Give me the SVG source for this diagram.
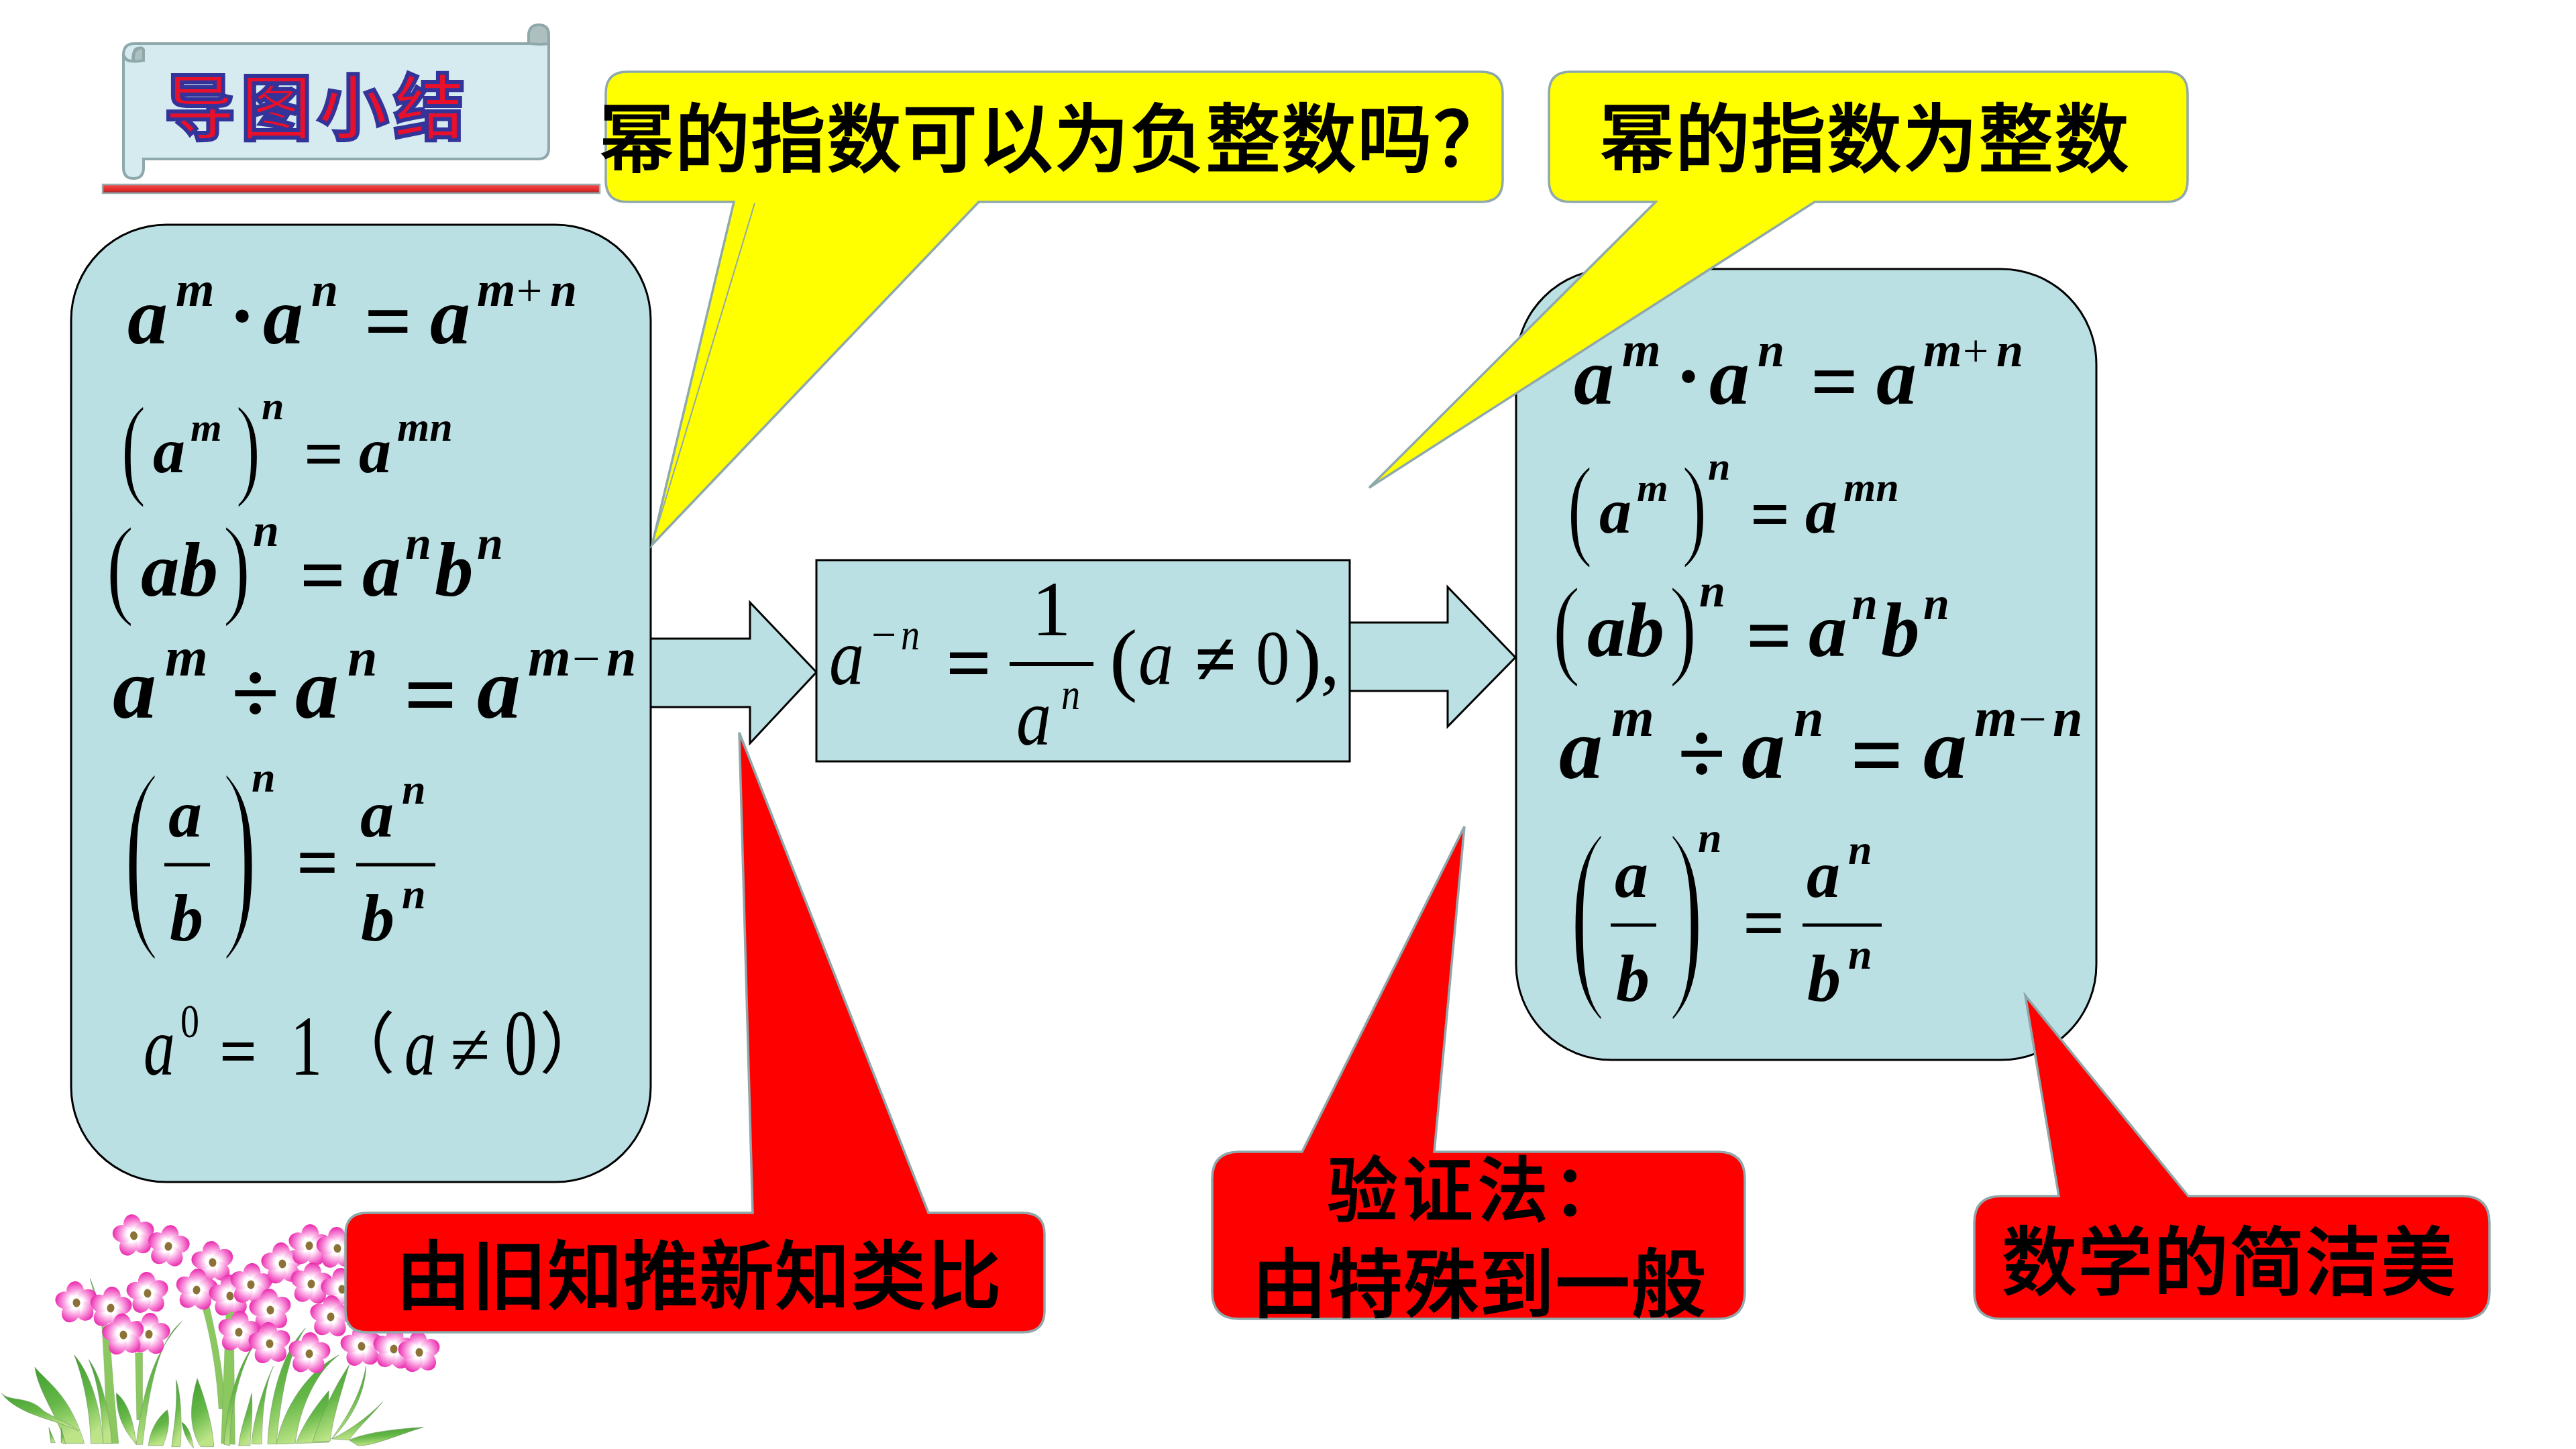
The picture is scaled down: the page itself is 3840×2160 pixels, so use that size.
<svg xmlns="http://www.w3.org/2000/svg" width="3840" height="2160" viewBox="0 0 3840 2160">
<style>
text{fill:#000}
.bi{font-family:"Liberation Serif",serif;font-style:italic;font-weight:700}
.bo{font-family:"Liberation Serif",serif;font-weight:700}
.rm{font-family:"Liberation Serif",serif}
.it{font-family:"Liberation Serif",serif;font-style:italic}
.cjk{font-family:"Noto Sans CJK SC",sans-serif;font-weight:500;font-size:112px;letter-spacing:1px;stroke:#000;stroke-width:1.5}
.box{fill:#bbe0e3;stroke:#000;stroke-width:3}
.bar{stroke:#000;stroke-width:5}
.yel{fill:#ff0;stroke:#8fa8ab;stroke-width:3.5}
.red{fill:#f00;stroke:#8fa8ab;stroke-width:3.5}
.scroll{fill:#d6ebef;stroke:#8fa8ab;stroke-width:4}
.curl{fill:#aebfc0;stroke:#8fa8ab;stroke-width:4}
.leaf{fill:url(#leafGrad);stroke:#6f8f62;stroke-width:1.5}
.stem{fill:#8cc860;stroke:#6f9a55;stroke-width:1}
/* tall delimiters: an outline in the panel colour thins the stretched strokes */
.thin{stroke:#bbe0e3;stroke-width:7;vector-effect:non-scaling-stroke}
.thin2{stroke:#bbe0e3;stroke-width:2.5;vector-effect:non-scaling-stroke}
</style>
<defs>
<linearGradient id="leafGrad" x1="0" y1="0" x2="0.25" y2="1"><stop offset="0" stop-color="#3f9f30"/><stop offset="0.55" stop-color="#66b848"/><stop offset="1" stop-color="#bde588"/></linearGradient>
<linearGradient id="ruleGrad" x1="0" y1="0" x2="0" y2="1"><stop offset="0" stop-color="#f05050"/><stop offset="0.6" stop-color="#e52a2a"/><stop offset="1" stop-color="#8e3030"/></linearGradient>
<radialGradient id="petalGrad" gradientUnits="userSpaceOnUse" cx="0" cy="0" r="33" fx="3" fy="-3"><stop offset="0" stop-color="#fff"/><stop offset="0.25" stop-color="#fff"/><stop offset="0.55" stop-color="#fa9fe0"/><stop offset="1" stop-color="#e81ea8"/></radialGradient>
<g id="flower">
<ellipse cx="0" cy="-17" rx="13" ry="15" fill="url(#petalGrad)"/>
<ellipse cx="0" cy="-17" rx="13" ry="15" fill="url(#petalGrad)" transform="rotate(72)"/>
<ellipse cx="0" cy="-17" rx="13" ry="15" fill="url(#petalGrad)" transform="rotate(144)"/>
<ellipse cx="0" cy="-17" rx="13" ry="15" fill="url(#petalGrad)" transform="rotate(216)"/>
<ellipse cx="0" cy="-17" rx="13" ry="15" fill="url(#petalGrad)" transform="rotate(288)"/>
<circle r="8" fill="#fff"/>
<ellipse rx="5.5" ry="6.5" fill="#8d7238"/>
</g>
</defs>
<rect width="3840" height="2160" fill="#fff"/>

<!-- banner scroll and heading -->
<g id="title">
<path class="scroll" d="M214,237 H802 Q818,237 818,221 V65 H200 Q184,65 184,82 V250 Q184,266 199,266 Q214,266 214,250 Z"/>
<path class="scroll" d="M214,90 Q214,72 206,72 Q198,72 198,90 Q190,94 184,82 M184,82 V250"/>
<path class="curl" d="M788,65 V50 Q790,37 803,37 Q818,37 818,52 V65 Q812,66 803,66 L788,65 Z"/>
<path class="curl" d="M184,84 Q190,95 214,90 V74 Q212,70 206,72 Q198,76 199,92" fill="none"/>
<rect x="153" y="275" width="741" height="13" fill="url(#ruleGrad)" stroke="#9aaeb0" stroke-width="2.5"/>
<text x="245" y="199" font-family="Noto Sans CJK SC,sans-serif" font-weight="700" font-size="106" letter-spacing="8" style="fill:#e8102a;stroke:#333399;stroke-width:6">导图小结</text>
</g>

<!-- flower clump, laid out on a 2.306 x 3 local grid -->
<g id="flowers">
<g transform="translate(0,1780) scale(.4337,.3333)">
<path class="stem" d="M350,590 L375,590 C385,780 395,950 408,1115 L365,1115 C365,950 360,780 350,590Z"/>
<path class="stem" d="M465,710 H490 V1010 L470,1010 Z"/>
<path class="stem" d="M695,505 L720,505 C745,650 770,800 772,960 L752,960 C745,800 725,640 695,505Z"/>
<path class="stem" d="M778,500 L802,500 L808,1120 L760,1115 Z"/>
<path class="leaf" d="M310,378 L333,460 L322,440 Z"/>
<path class="leaf" d="M120,775 C170,850 240,900 290,1115 L225,1115 C200,1000 130,880 120,775Z"/>
<path class="leaf" d="M5,890 C30,930 100,900 150,970 C200,1010 260,1040 270,1060 C200,1010 60,990 5,890Z"/>
<path class="leaf" d="M255,720 C310,800 345,950 355,1115 L312,1115 C310,950 280,800 255,720Z"/>
<path class="leaf" d="M305,740 C350,820 375,970 385,1115 L355,1115 C350,970 340,850 305,740Z"/>
<path class="leaf" d="M400,890 C440,930 460,1020 468,1120 C430,1060 400,1000 400,890Z"/>
<path class="leaf" d="M625,570 C560,640 520,780 490,1120 L468,1120 C490,900 520,720 625,570Z"/>
<path class="leaf" d="M575,965 C585,1010 580,1060 560,1125 L510,1125 C515,1060 540,1000 575,965Z"/>
<path class="leaf" d="M605,830 C625,900 625,1050 620,1130 L590,1130 C600,1020 610,950 605,830Z"/>
<path class="leaf" d="M625,1020 C650,1040 660,1090 665,1135 C640,1100 630,1060 625,1020Z"/>
<path class="leaf" d="M678,825 C700,900 730,1020 735,1130 L690,1130 C650,1050 650,950 678,825Z"/>
<path class="leaf" d="M865,890 C870,1000 860,1080 860,1125 L820,1125 C830,1030 850,970 865,890Z"/>
<path class="leaf" d="M875,670 C830,760 790,950 790,1125 L770,1120 C780,950 810,780 875,670Z"/>
<path class="leaf" d="M940,770 C910,850 900,1000 900,1118 L865,1118 C870,1000 910,850 940,770Z"/>
<path class="leaf" d="M1050,600 C990,700 960,950 950,1118 L920,1118 C925,950 960,720 1050,600Z"/>
<path class="leaf" d="M1165,720 C1090,790 1030,950 1015,1115 L950,1118 C975,950 1060,790 1165,720Z"/>
<path class="leaf" d="M1130,880 C1130,970 1120,1050 1130,1110 L1018,1115 C1040,1030 1090,940 1130,880Z"/>
<path class="leaf" d="M1200,765 C1170,900 1140,1020 1135,1105 L1075,1108 C1100,1000 1150,860 1200,765Z"/>
<path class="leaf" d="M1258,770 C1255,900 1200,1020 1140,1095 C1190,1000 1240,900 1258,770Z"/>
<path class="leaf" d="M1315,930 C1270,1000 1220,1060 1200,1100 L1140,1095 C1200,1060 1270,990 1315,930Z"/>
<path class="leaf" d="M1455,1043 C1380,1070 1280,1130 1230,1125 L1200,1100 C1250,1070 1350,1050 1455,1043Z"/>
<path class="leaf" d="M168,1045 L190,1112 L175,1112 Z"/>
<path class="leaf" d="M210,1045 L225,1118 L210,1112 Z"/>
</g>
<use href="#flower" transform="translate(199.5,1842) rotate(-8)"/>
<use href="#flower" transform="translate(251,1858) rotate(8)"/>
<use href="#flower" transform="translate(317,1882) rotate(-6)"/>
<use href="#flower" transform="translate(293,1923) rotate(6)"/>
<use href="#flower" transform="translate(343,1932) rotate(-4)"/>
<use href="#flower" transform="translate(374,1915) rotate(5)"/>
<use href="#flower" transform="translate(421,1884) rotate(-6)"/>
<use href="#flower" transform="translate(461,1857) rotate(4)"/>
<use href="#flower" transform="translate(503,1861) rotate(-3)"/>
<use href="#flower" transform="translate(464,1914) rotate(6)"/>
<use href="#flower" transform="translate(510,1922) rotate(-6)"/>
<use href="#flower" transform="translate(493,1963) rotate(4)"/>
<use href="#flower" transform="translate(403,1953) rotate(-5)"/>
<use href="#flower" transform="translate(356,1986) rotate(5)"/>
<use href="#flower" transform="translate(402,2003) rotate(-5)"/>
<use href="#flower" transform="translate(461,2018) rotate(4)"/>
<use href="#flower" transform="translate(539,2007) rotate(-4)"/>
<use href="#flower" transform="translate(587,2011) rotate(5)"/>
<use href="#flower" transform="translate(625,2016) rotate(-5)"/>
<use href="#flower" transform="translate(114,1942) rotate(-6)"/>
<use href="#flower" transform="translate(165,1950) rotate(6)"/>
<use href="#flower" transform="translate(220,1928) rotate(-4)"/>
<use href="#flower" transform="translate(222,1989) rotate(5)"/>
<use href="#flower" transform="translate(184,1990) rotate(-6)"/>
</g>

<!-- block arrows between the three panels -->
<g id="connectors">
<path d="M970,952 H1118 V898 L1217,1002 L1118,1108 V1054 H970" fill="#bbe0e3" stroke="#000" stroke-width="3"/>
<path d="M2012,928 H2158 V875 L2259,980 L2158,1083 V1030 H2012" fill="#bbe0e3" stroke="#000" stroke-width="3"/>
</g>

<g id="node-left">
<rect class="box" x="106" y="335" width="864" height="1427" rx="142" ry="142"/>
<g id="laws-left">
<text class="bi" x="190" y="512" font-size="120">a</text>
<text class="bi" x="262" y="456" font-size="74">m</text>
<text class="bo" x="341" y="511" font-size="120">·</text>
<text class="bi" x="392" y="512" font-size="120">a</text>
<text class="bi" x="464" y="456" font-size="72">n</text>
<text class="bo" x="543" y="521" font-size="125">=</text>
<text class="bi" x="641" y="512" font-size="120">a</text>
<text class="bi" x="711" y="456" font-size="74">m</text>
<text class="rm" x="770" y="456" font-size="68">+</text>
<text class="bi" x="820" y="456" font-size="72">n</text>

<text class="rm thin2" transform="translate(180,722) scale(.67,1)" font-size="170">(</text>
<text class="bi" x="228" y="704" font-size="96">a</text>
<text class="bi" x="284" y="657" font-size="60">m</text>
<text class="rm thin2" transform="translate(351,722) scale(.67,1)" font-size="170">)</text>
<text class="bi" x="390" y="625" font-size="60">n</text>
<text class="bo" x="453" y="711" font-size="104">=</text>
<text class="bi" x="535" y="704" font-size="96">a</text>
<text class="bi" x="592" y="657" font-size="62">mn</text>

<text class="rm thin2" transform="translate(158,900) scale(.75,1)" font-size="168">(</text>
<text class="bi" x="210" y="888" font-size="115">ab</text>
<text class="rm thin2" transform="translate(332,900) scale(.75,1)" font-size="168">)</text>
<text class="bi" x="377" y="814" font-size="70">n</text>
<text class="bo" x="447" y="898" font-size="120">=</text>
<text class="bi" x="540" y="888" font-size="115">a</text>
<text class="bi" x="604" y="833" font-size="70">n</text>
<text class="bi" x="648" y="888" font-size="115">b</text>
<text class="bi" x="711" y="833" font-size="70">n</text>

<text class="bi" x="168" y="1070" font-size="130">a</text>
<text class="bi" x="246" y="1007" font-size="82">m</text>
<text class="bo" x="345" y="1077" font-size="130">÷</text>
<text class="bi" x="440" y="1070" font-size="130">a</text>
<text class="bi" x="518" y="1007" font-size="80">n</text>
<text class="bo" x="602" y="1083" font-size="140">=</text>
<text class="bi" x="711" y="1070" font-size="130">a</text>
<text class="bi" x="787" y="1007" font-size="82">m</text>
<text class="rm" x="853" y="1007" font-size="74">−</text>
<text class="bi" x="904" y="1007" font-size="80">n</text>

<text class="rm thin" transform="translate(183,1369) scale(.52,1)" font-size="318">(</text>
<text class="bi" x="251" y="1247" font-size="100">a</text>
<line class="bar" x1="245" y1="1289" x2="313" y2="1289"/>
<text class="bi" x="253" y="1402" font-size="100">b</text>
<text class="rm thin" transform="translate(330,1369) scale(.52,1)" font-size="318">)</text>
<text class="bi" x="375" y="1180" font-size="64">n</text>
<text class="bo" x="442" y="1323" font-size="110">=</text>
<text class="bi" x="537" y="1247" font-size="100">a</text>
<text class="bi" x="599" y="1198" font-size="64">n</text>
<line class="bar" x1="531" y1="1289" x2="649" y2="1289"/>
<text class="bi" x="538" y="1402" font-size="100">b</text>
<text class="bi" x="599" y="1354" font-size="64">n</text>
</g>
<text class="it" transform="translate(214,1602) scale(.75,1)" font-size="125">a</text>
<text class="rm" transform="translate(269,1546) scale(.8,1)" font-size="70">0</text>
<text class="bo" x="327" y="1601" font-size="99">=</text>
<text class="rm" transform="translate(433,1602) scale(.75,1)" font-size="126">1</text>
<text x="489" y="1591" font-family="Noto Sans CJK SC,sans-serif" font-size="100">（</text>
<text class="it" transform="translate(603,1602) scale(.75,1)" font-size="125">a</text>
<text class="rm" x="671" y="1601" font-size="108">≠</text>
<text class="rm" transform="translate(752,1602) scale(.7,1)" font-size="140">0</text>
<text x="804" y="1591" font-family="Noto Sans CJK SC,sans-serif" font-size="100">）</text>
</g>

<g id="node-center">
<rect x="1217" y="835" width="795" height="300" fill="#bbe0e3" stroke="#000" stroke-width="3"/>
<text class="it" transform="translate(1236,1020) scale(.87,1)" font-size="120">a</text>
<text class="rm" x="1299" y="968" font-size="66">−</text>
<text class="it" transform="translate(1343,968) scale(.85,1)" font-size="66">n</text>
<text class="bo" x="1410" y="1029" font-size="120">=</text>
<text class="rm" x="1538" y="947" font-size="117">1</text>
<line x1="1505" y1="990" x2="1630" y2="990" stroke="#000" stroke-width="6"/>
<text class="it" transform="translate(1515,1110) scale(.87,1)" font-size="120">a</text>
<text class="it" transform="translate(1582,1057) scale(.85,1)" font-size="66">n</text>
<text class="rm" transform="translate(1654,1022) scale(1.03,1)" font-size="121">(</text>
<text class="it" transform="translate(1697,1020) scale(.87,1)" font-size="120">a</text>
<text class="bo" x="1781" y="1020" font-size="112">≠</text>
<text class="rm" transform="translate(1872,1020) scale(.87,1)" font-size="116">0</text>
<text class="rm" transform="translate(1928.5,1022) scale(1.03,1)" font-size="121">)</text>
<text class="rm" x="1968" y="1020" font-size="116">,</text>
</g>

<g id="node-right">
<rect class="box" x="2260" y="401" width="865" height="1179" rx="142" ry="142"/>
<g id="laws-right" transform="translate(2156,90)">
<text class="bi" x="190" y="512" font-size="120">a</text>
<text class="bi" x="262" y="456" font-size="74">m</text>
<text class="bo" x="341" y="511" font-size="120">·</text>
<text class="bi" x="392" y="512" font-size="120">a</text>
<text class="bi" x="464" y="456" font-size="72">n</text>
<text class="bo" x="543" y="521" font-size="125">=</text>
<text class="bi" x="641" y="512" font-size="120">a</text>
<text class="bi" x="711" y="456" font-size="74">m</text>
<text class="rm" x="770" y="456" font-size="68">+</text>
<text class="bi" x="820" y="456" font-size="72">n</text>

<text class="rm thin2" transform="translate(180,722) scale(.67,1)" font-size="170">(</text>
<text class="bi" x="228" y="704" font-size="96">a</text>
<text class="bi" x="284" y="657" font-size="60">m</text>
<text class="rm thin2" transform="translate(351,722) scale(.67,1)" font-size="170">)</text>
<text class="bi" x="390" y="625" font-size="60">n</text>
<text class="bo" x="453" y="711" font-size="104">=</text>
<text class="bi" x="535" y="704" font-size="96">a</text>
<text class="bi" x="592" y="657" font-size="62">mn</text>

<text class="rm thin2" transform="translate(158,900) scale(.75,1)" font-size="168">(</text>
<text class="bi" x="210" y="888" font-size="115">ab</text>
<text class="rm thin2" transform="translate(332,900) scale(.75,1)" font-size="168">)</text>
<text class="bi" x="377" y="814" font-size="70">n</text>
<text class="bo" x="447" y="898" font-size="120">=</text>
<text class="bi" x="540" y="888" font-size="115">a</text>
<text class="bi" x="604" y="833" font-size="70">n</text>
<text class="bi" x="648" y="888" font-size="115">b</text>
<text class="bi" x="711" y="833" font-size="70">n</text>

<text class="bi" x="168" y="1070" font-size="130">a</text>
<text class="bi" x="246" y="1007" font-size="82">m</text>
<text class="bo" x="345" y="1077" font-size="130">÷</text>
<text class="bi" x="440" y="1070" font-size="130">a</text>
<text class="bi" x="518" y="1007" font-size="80">n</text>
<text class="bo" x="602" y="1083" font-size="140">=</text>
<text class="bi" x="711" y="1070" font-size="130">a</text>
<text class="bi" x="787" y="1007" font-size="82">m</text>
<text class="rm" x="853" y="1007" font-size="74">−</text>
<text class="bi" x="904" y="1007" font-size="80">n</text>

<text class="rm thin" transform="translate(183,1369) scale(.52,1)" font-size="318">(</text>
<text class="bi" x="251" y="1247" font-size="100">a</text>
<line class="bar" x1="245" y1="1289" x2="313" y2="1289"/>
<text class="bi" x="253" y="1402" font-size="100">b</text>
<text class="rm thin" transform="translate(330,1369) scale(.52,1)" font-size="318">)</text>
<text class="bi" x="375" y="1180" font-size="64">n</text>
<text class="bo" x="442" y="1323" font-size="110">=</text>
<text class="bi" x="537" y="1247" font-size="100">a</text>
<text class="bi" x="599" y="1198" font-size="64">n</text>
<line class="bar" x1="531" y1="1289" x2="649" y2="1289"/>
<text class="bi" x="538" y="1402" font-size="100">b</text>
<text class="bi" x="599" y="1354" font-size="64">n</text>
</g>
</g>

<g id="callout-negative">
<path class="yel" d="M935,107 H2208 Q2240,107 2240,139 V269 Q2240,301 2208,301 H1459 L972,812 L1094,301 H935 Q903,301 903,269 V139 Q903,107 935,107Z"/>
<line x1="1125" y1="303" x2="973" y2="808" stroke="#8fa8ab" stroke-width="2"/>
<text class="cjk" x="893" y="248">幂的指数可以为负整数吗？</text>
</g>
<g id="callout-integer">
<path class="yel" d="M2341,107 H3229 Q3261,107 3261,139 V269 Q3261,301 3229,301 H2705 L2041,727 L2468,301 H2341 Q2309,301 2309,269 V139 Q2309,107 2341,107Z"/>
<text class="cjk" x="2384" y="248">幂的指数为整数</text>
</g>
<g id="callout-analogy">
<path class="red" d="M547,1808 H1122 L1102,1092 L1384,1808 H1525 Q1557,1808 1557,1840 V1954 Q1557,1986 1525,1986 H547 Q515,1986 515,1954 V1840 Q515,1808 547,1808Z"/>
<text class="cjk" x="590" y="1943">由旧知推新知类比</text>
</g>
<g id="callout-verify">
<path class="red" d="M1847,1717 H1941 L2183,1232 L2138,1717 H2561 Q2601,1717 2601,1757 V1926 Q2601,1966 2561,1966 H1847 Q1807,1966 1807,1926 V1757 Q1807,1717 1847,1717Z"/>
<text class="cjk" x="1978" y="1812" style="font-size:106px;letter-spacing:6px">验证法：</text>
<text class="cjk" x="1866" y="1955">由特殊到一般</text>
</g>
<g id="callout-beauty">
<path class="red" d="M2983,1783 H3069 L3019,1484 L3262,1783 H3671 Q3711,1783 3711,1823 V1926 Q3711,1966 3671,1966 H2983 Q2943,1966 2943,1926 V1823 Q2943,1783 2983,1783Z"/>
<text class="cjk" x="2984" y="1922">数学的简洁美</text>
</g>
</svg>
